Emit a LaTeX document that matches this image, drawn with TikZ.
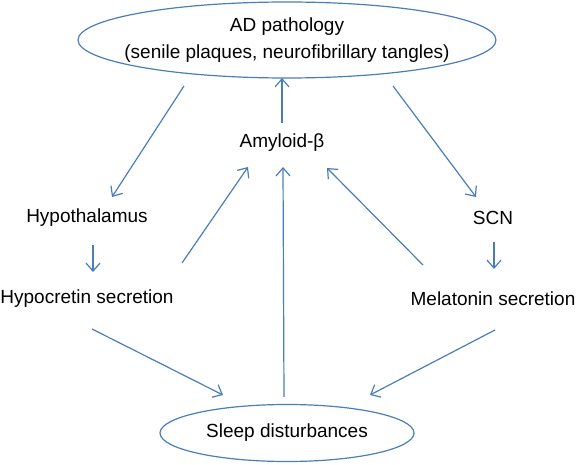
\documentclass[tikz,border=0pt]{standalone}
\usepackage{fontspec}
\setmainfont{Liberation Sans}
\usetikzlibrary{shapes.geometric,arrows.meta}
\definecolor{lineblue}{RGB}{74,126,187}
\tikzset{
  lbl/.style={font=\fontsize{19}{27}\selectfont, inner sep=0pt, align=center, text=black},
  oval/.style={draw=lineblue, line width=1.2pt, ellipse, inner sep=0pt},
  arr/.style={draw=lineblue, line width=1.2pt, -{Straight Barb[length=8pt,width=14pt]}}
}
\begin{document}
\begin{tikzpicture}[x=1pt,y=-1pt]
\useasboundingbox (0,0) rectangle (576,465);
\node[oval, minimum width=418pt, minimum height=76pt] (ad) at (287,40) {};
\node[lbl] (adtext) at (ad.center) {AD pathology\\(senile plaques, neurofibrillary tangles)};
\node[lbl] (amy) at (282,143) {Amyloid-β};
\node[lbl] (hypoth) at (87,218) {Hypothalamus};
\node[lbl] (hypoc) at (87,299) {Hypocretin secretion};
\node[lbl] (scn) at (493,218) {SCN};
\node[lbl] (mel) at (493,299) {Melatonin secretion};
\node[oval, minimum width=254pt, minimum height=57pt] (sleep) at (287,433) {};
\node[lbl] (sleeptext) at (sleep.center) {Sleep disturbances};

\draw[arr] ([xshift=-103pt,yshift=-46pt]ad.center) -- ([xshift=25pt,yshift=21pt]hypoth.center);
\draw[arr] ([yshift=20pt]amy.center) -- ([xshift=-5pt,yshift=-38pt]ad.center);
\draw[arr] ([xshift=106pt,yshift=-46pt]ad.center) -- ([xshift=-17pt,yshift=21pt]scn.center);
\draw[arr] ([xshift=6pt,yshift=-27pt]hypoth.center) -- ([xshift=6pt,yshift=27pt]hypoc.center);
\draw[arr] ([xshift=1pt,yshift=-24pt]scn.center) -- ([xshift=1pt,yshift=30pt]mel.center);
\draw[arr] ([xshift=95pt,yshift=36pt]hypoc.center) -- ([xshift=-34pt,yshift=-24pt]amy.center);
\draw[arr] ([xshift=-3pt,yshift=36pt]sleep.center) -- ([xshift=1pt,yshift=-24pt]amy.center);
\draw[arr] ([xshift=-70pt,yshift=34pt]mel.center) -- ([xshift=45pt,yshift=-25pt]amy.center);
\draw[arr] ([xshift=5pt,yshift=-30pt]hypoc.center) -- ([xshift=-64pt,yshift=38pt]sleep.center);
\draw[arr] ([xshift=2pt,yshift=-31pt]mel.center) -- ([xshift=83pt,yshift=38pt]sleep.center);
\end{tikzpicture}
\end{document}
